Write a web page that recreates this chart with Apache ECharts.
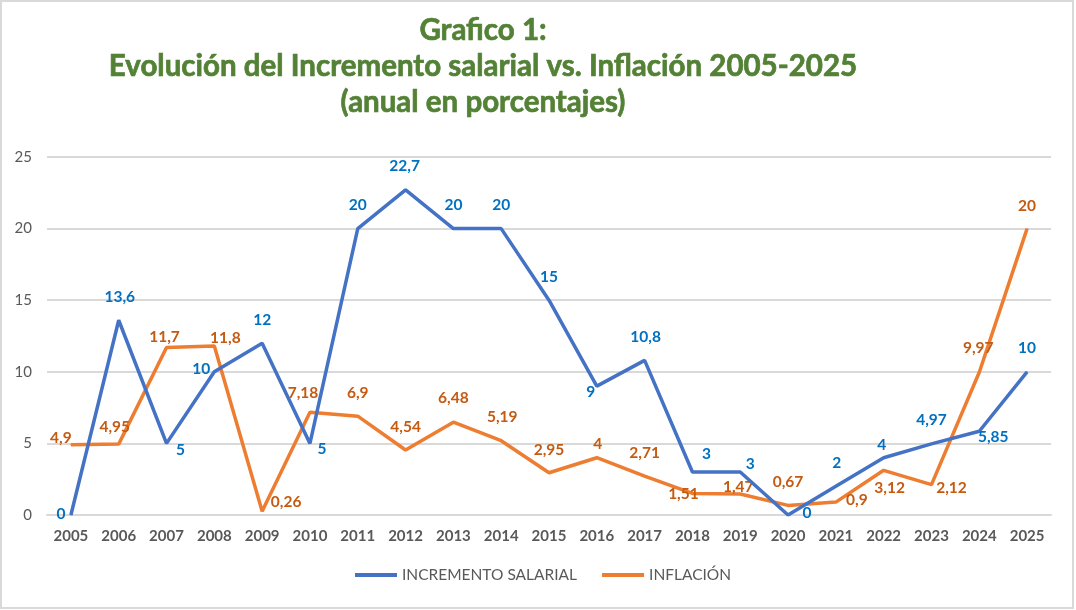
<!DOCTYPE html>
<html><head><meta charset="utf-8">
<script src="https://cdn.jsdelivr.net/npm/echarts@6/dist/echarts.min.js"></script>
<style>html,body{margin:0;padding:0;background:#fff}#c{width:1076px;height:610px}</style>
</head><body><div id="c"></div>
<script>
const years = ['2005','2006','2007','2008','2009','2010','2011','2012','2013','2014','2015','2016','2017','2018','2019','2020','2021','2022','2023','2024','2025'];
const salario = [0, 13.6, 5, 10, 12, 5, 20, 22.7, 20, 20, 15, 9, 10.8, 3, 3, 0, 2, 4, 4.97, 5.85, 10];
const inflacion = [4.9, 4.95, 11.7, 11.8, 0.26, 7.18, 6.9, 4.54, 6.48, 5.19, 2.95, 4, 2.71, 1.51, 1.47, 0.67, 0.9, 3.12, 2.12, 9.97, 20];
const yTicks = [0, 5, 10, 15, 20, 25];
const titleLines = ['Grafico 1:', 'Evolución del Incremento salarial vs. Inflación 2005-2025', '(anual en porcentajes)'];
const seriesNames = ['INCREMENTO SALARIAL', 'INFLACIÓN'];

// label placement (offsets from point, px)
const salarioLabelOffset = [[-10,-1],[1,-23],[14,7],[-13,-3],[0,-23],[12,6],[0,-24],[-1,-24],[0,-24],[0,-24],[0,-23],[-6,6],[1,-23],[14,-18],[10,-8],[19,-2],[1,-23],[-2,-13],[0,-24],[14,6],[0,-24]];
const inflacionLabelOffset = [[-10,-7],[-4,-17],[-2,-10],[11,-8],[24,-9],[-7,-19],[0,-23],[0,-23],[0,-24],[1,-24],[0,-23],[1,-14],[0,-23],[-9,1],[-2,-7],[0,-23],[21,-2],[6,18],[20,3],[-1,-24],[0,-23]];

const fmt = v => String(v).replace('.', ',');
const FONT = 'Lato, "Open Sans", sans-serif';

const chart = echarts.init(document.getElementById('c'), null, {renderer: 'canvas'});
chart.setOption({
  animation: false,
  backgroundColor: '#fff',
  graphic: [
    { type: 'rect', shape: { x: 1, y: 1, width: 1072, height: 607 }, style: { fill: 'none', stroke: '#d9d9d9', lineWidth: 2 }, z: 100 },
    ...titleLines.map((t, i) => ({
      type: 'text', x: 483, y: 30 + i * 36,
      style: { text: t, fill: '#538135', stroke: '#538135', lineWidth: 0.7, font: 'bold 29.5px ' + FONT, align: 'center', verticalAlign: 'middle' }
    }))
  ],
  legend: {
    bottom: 22, left: 350,
    itemWidth: 42, itemHeight: 4, itemGap: 25,
    icon: 'rect',
    textStyle: { color: '#595959', fontSize: 15.5, fontFamily: FONT },
    data: seriesNames
  },
  grid: { left: 47, right: 25, top: 157, bottom: 95, containLabel: false },
  xAxis: {
    type: 'category', data: years, boundaryGap: true,
    axisLine: { show: true, lineStyle: { color: '#d9d9d9', width: 2 } },
    axisTick: { show: false },
    axisLabel: { color: '#595959', fontSize: 15, fontWeight: 'bold', fontFamily: FONT, margin: 14, interval: 0 }
  },
  yAxis: {
    type: 'value', min: 0, max: 25, interval: 5,
    axisLine: { show: false }, axisTick: { show: false },
    splitLine: { lineStyle: { color: '#d9d9d9', width: 2 } },
    axisLabel: { color: '#595959', fontSize: 15, fontFamily: FONT, margin: 15,
      formatter: v => yTicks.includes(v) ? String(v) : '' }
  },
  series: [
    {
      name: seriesNames[0], type: 'line', data: salario,
      symbol: 'circle', symbolSize: 1, showSymbol: true,
      itemStyle: { color: '#4472C4' },
      lineStyle: { color: '#4472C4', width: 3.5 },
      label: { show: true, position: 'inside', color: '#0070C0', fontWeight: 'bold', fontSize: 15.5, fontFamily: FONT,
        formatter: p => fmt(p.value) },
      labelLayout: p => ({ dx: salarioLabelOffset[p.dataIndex][0], dy: salarioLabelOffset[p.dataIndex][1], hideOverlap: false }),
      z: 3
    },
    {
      name: seriesNames[1], type: 'line', data: inflacion,
      symbol: 'circle', symbolSize: 1, showSymbol: true,
      itemStyle: { color: '#ED7D31' },
      lineStyle: { color: '#ED7D31', width: 3.5 },
      label: { show: true, position: 'inside', color: '#C55A11', fontWeight: 'bold', fontSize: 15.5, fontFamily: FONT,
        formatter: p => fmt(p.value) },
      labelLayout: p => ({ dx: inflacionLabelOffset[p.dataIndex][0], dy: inflacionLabelOffset[p.dataIndex][1], hideOverlap: false }),
      z: 2
    }
  ]
});
</script></body></html>
